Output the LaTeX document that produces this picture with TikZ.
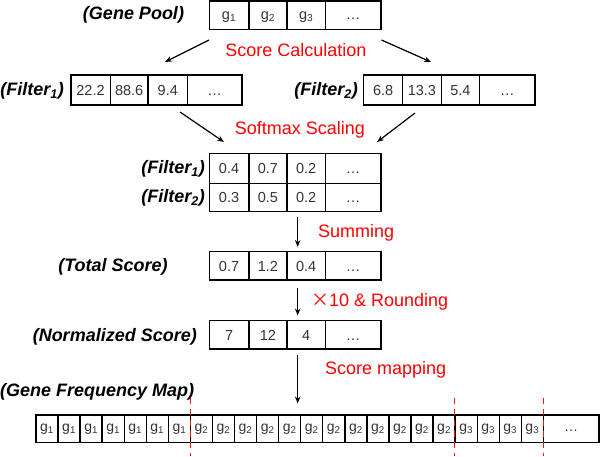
\documentclass[tikz,border=0pt]{standalone}
\usepackage{fontspec}
\setmainfont{Liberation Sans}
\newfontfamily\cjkfont{Noto Sans CJK SC}
\usetikzlibrary{arrows.meta}
\begin{document}
\begin{tikzpicture}[x=1pt,y=-1pt,
  boxline/.style={line width=1.4pt, black},
  celltext/.style={inner sep=0pt, text height=10.4pt, text depth=0pt, text=black!80, font=\fontsize{14.5}{16}\selectfont},
  rowtext/.style={inner sep=0pt, text height=7.5pt, text depth=0pt, text=black!80, font=\fontsize{14}{16}\selectfont},
  lbl/.style={inner sep=0pt, font=\fontsize{18}{20}\selectfont\bfseries\itshape},
  redlbl/.style={inner sep=0pt, text=red, font=\fontsize{18}{20}\selectfont},
  arr/.style={line width=1.2pt, -{Stealth[length=7pt,width=5.5pt]}},
  reddash/.style={red!85!orange, line width=1.4pt, dash pattern=on 6pt off 5pt}
]
\useasboundingbox (0,0) rectangle (600,456);

% ---------- Gene pool ----------
\node[lbl] (lgp) at (133.5,15) {(Gene Pool)};
\foreach \a/\b/\t [count=\i] in {209.3/248.8/g\textsubscript{1},248.8/287/g\textsubscript{2},287/325.3/g\textsubscript{3},325.3/380.8/…}
  {\draw[boxline] (\a,1) rectangle (\b,29.5);
   \node[celltext] (gp\i) at ({(\a+\b)/2},14.5) {\t};}

% ---------- Filter rows ----------
\node[lbl, anchor=east] (lf1) at (64,91) {(Filter\textsubscript{1})};
\foreach \a/\b/\t [count=\i] in {70.8/110.2/22.2,110.2/148.1/88.6,148.1/187.5/9.4,187.5/241.9/…}
  {\draw[boxline] (\a,75) rectangle (\b,105);
   \node[celltext] (fa\i) at ({(\a+\b)/2},90) {\t};}
\node[lbl, anchor=east] (lf2) at (358,91) {(Filter\textsubscript{2})};
\foreach \a/\b/\t [count=\i] in {363.6/402.6/6.8,402.6/441.3/13.3,441.3/479.5/5.4,479.5/535/…}
  {\draw[boxline] (\a,75) rectangle (\b,105);
   \node[celltext] (fb\i) at ({(\a+\b)/2},90) {\t};}

\node[redlbl] (tsc) at (296,50) {Score Calculation};
\coordinate (a1s) at (209,40);  \coordinate (a1e) at (165,62);
\coordinate (a2s) at (381.5,40); \coordinate (a2e) at (431,62);
\draw[arr] (a1s) -- (a1e);
\draw[arr] (a2s) -- (a2e);

% ---------- Softmax ----------
\node[redlbl] (tsm) at (300,130) {Softmax Scaling};
\coordinate (a3s) at (180,112); \coordinate (a3e) at (224,142);
\coordinate (a4s) at (415,113); \coordinate (a4e) at (377,142);
\draw[arr] (a3s) -- (a3e);
\draw[arr] (a4s) -- (a4e);

\node[lbl, anchor=east] (ls1) at (205,169) {(Filter\textsubscript{1})};
\node[lbl, anchor=east] (ls2) at (205,198) {(Filter\textsubscript{2})};
\foreach \a/\b/\t [count=\i] in {209.3/248.8/0.4,248.8/287/0.7,287/325.3/0.2,325.3/380.8/…}
  {\draw[boxline] (\a,153.3) rectangle (\b,183.3);
   \node[celltext] (sa\i) at ({(\a+\b)/2},168.3) {\t};}
\foreach \a/\b/\t [count=\i] in {209.3/248.8/0.3,248.8/287/0.5,287/325.3/0.2,325.3/380.8/…}
  {\draw[boxline] (\a,183.3) rectangle (\b,211.7);
   \node[celltext] (sb\i) at ({(\a+\b)/2},197.5) {\t};}

\coordinate (a5s) at (297.7,216.7); \coordinate (a5e) at (297.7,247);
\draw[arr] (a5s) -- (a5e);
\node[redlbl, anchor=west] (tsum) at (318,233) {Summing};

% ---------- Total score ----------
\node[lbl] (lts) at (113,266.5) {(Total Score)};
\foreach \a/\b/\t [count=\i] in {209.3/248.8/0.7,248.8/287/1.2,287/325.3/0.4,325.3/380.8/…}
  {\draw[boxline] (\a,251.7) rectangle (\b,280);
   \node[celltext] (ta\i) at ({(\a+\b)/2},265.8) {\t};}

\coordinate (a6s) at (297.7,287.7); \coordinate (a6e) at (297.7,315.5);
\draw[arr] (a6s) -- (a6e);
\node[redlbl, anchor=west] (tround) at (311,301.7) {{\cjkfont ×}10 \& Rounding};

% ---------- Normalized score ----------
\node[lbl, anchor=east] (lns) at (197,336.5) {(Normalized Score)};
\foreach \a/\b/\t [count=\i] in {209.3/248.8/7,248.8/287/12,287/325.3/4,325.3/380.8/…}
  {\draw[boxline] (\a,320.7) rectangle (\b,349);
   \node[celltext] (na\i) at ({(\a+\b)/2},334.8) {\t};}

\coordinate (a7s) at (297.7,355); \coordinate (a7e) at (297.7,403.5);
\draw[arr] (a7s) -- (a7e);
\node[redlbl, anchor=west] (tmap) at (325,370) {Score mapping};

% ---------- Gene frequency map ----------
\node[lbl, anchor=west] (lgf) at (0,391.5) {(Gene Frequency Map)};
\foreach \i in {0,...,22}{
  \pgfmathsetmacro{\xa}{36+22.06*\i}
  \pgfmathsetmacro{\xb}{36+22.06*(\i+1)}
  \pgfmathtruncatemacro{\g}{\i<7 ? 1 : (\i<19 ? 2 : 3)}
  \draw[boxline] (\xa,415) rectangle (\xb,442.7);
  \node[rowtext] (fm\i) at ({(\xa+\xb)/2},428) {g\textsubscript{\g}};
}
\draw[boxline] (543.4,415) rectangle (599,442.7);
\node[rowtext] (fmdots) at (571.2,428) {…};

\coordinate (d1t) at (190.6,398); \coordinate (d1b) at (190.6,456);
\coordinate (d2t) at (454.6,398); \coordinate (d2b) at (454.6,456);
\coordinate (d3t) at (543.4,398); \coordinate (d3b) at (543.4,456);
\draw[reddash] (d1t) -- (d1b);
\draw[reddash] (d2t) -- (d2b);
\draw[reddash] (d3t) -- (d3b);
\end{tikzpicture}
\end{document}
